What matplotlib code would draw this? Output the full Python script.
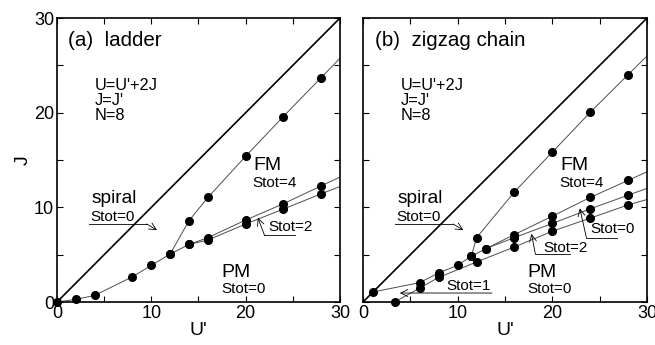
import matplotlib.pyplot as plt
from matplotlib.ticker import MultipleLocator

plt.rcParams['font.family'] = ['Liberation Sans', 'DejaVu Sans']

# J = U' boundary (both panels)
diag_u = [0, 30]
diag_j = [0, 30]

# (a) ladder
lad_fm_u = [0, 2, 4, 8, 10, 12, 14, 16, 20, 24, 28, 30]
lad_fm_j = [0, 0.28, 0.7, 2.67, 3.87, 5.07, 8.6, 11.05, 15.4, 19.6, 23.7, 25.75]
lad_s0_u = [12, 14, 16, 20, 24, 28, 30]
lad_s0_j = [5.07, 6.08, 6.8, 8.66, 10.38, 12.27, 13.2]
lad_s2_u = [14, 16, 20, 24, 28, 30]
lad_s2_j = [6.08, 6.55, 8.24, 9.82, 11.43, 12.2]

# (b) zigzag chain
zz_fm_u = [11.44, 12, 16, 20, 24, 28, 30]
zz_fm_j = [4.84, 6.8, 11.64, 15.84, 20.04, 24.02, 26.0]
zz_a_u = [1.06, 6, 8, 10, 11.44, 13, 16, 20, 24, 28, 30]
zz_a_j = [1.06, 2.05, 3.08, 3.88, 4.84, 5.65, 7.13, 9.07, 11.05, 12.85, 13.76]
zz_b_u = [13, 16, 20, 24, 28, 30]
zz_b_j = [5.65, 6.81, 8.3, 9.84, 11.29, 12.0]
zz_c_u = [3.35, 6, 8, 12, 16, 20, 24, 28, 30]
zz_c_j = [0, 1.48, 2.6, 4.23, 5.82, 7.48, 8.86, 10.26, 10.83]
zz_extra_u = [8]
zz_extra_j = [2.85]


def boundary(ax, u, j, marked=True):
    # last point is only where the line leaves the frame
    ax.plot(u, j, color='0.3', lw=0.7, zorder=2)
    if marked:
        ax.plot(u[:-1], j[:-1], 'o', color='k', ms=5.5, zorder=3, clip_on=False)


def arrow(ax, pts):
    xs = [p[0] for p in pts[:-1]]
    ys = [p[1] for p in pts[:-1]]
    ax.plot(xs, ys, color='k', lw=0.6)
    ax.annotate('', xy=pts[-1], xytext=pts[-2],
                arrowprops=dict(arrowstyle='->,head_length=0.5,head_width=0.25',
                                lw=0.6, color='k', shrinkA=0, shrinkB=0))


def frame(ax):
    ax.set_xlim(0, 30)
    ax.set_ylim(0, 30)
    ax.xaxis.set_major_locator(MultipleLocator(10))
    ax.yaxis.set_major_locator(MultipleLocator(10))
    ax.xaxis.set_minor_locator(MultipleLocator(5))
    ax.yaxis.set_minor_locator(MultipleLocator(5))
    ax.tick_params(which='both', direction='in', top=True, right=True,
                   length=4, width=0.8, labelsize=13, pad=2)
    for s in ax.spines.values():
        s.set_linewidth(1.2)
    ax.plot(diag_u, diag_j, color='k', lw=1.2, zorder=2)
    ax.set_xlabel("U'", fontsize=14, labelpad=0)
    ax.text(4.0, 23.7, "U=U'+2J\nJ=J'\nN=8", fontsize=11.8, va='top', linespacing=1.0)
    ax.text(3.7, 10.5, 'spiral', fontsize=13.8)
    ax.text(3.5, 8.55, 'Stot=0', fontsize=11)
    arrow(ax, [(3.4, 8.25), (9.5, 8.25), (10.6, 7.6)])
    ax.text(20.8, 14.0, 'FM', fontsize=14)
    ax.text(20.7, 12.2, 'Stot=4', fontsize=11)
    ax.text(17.4, 2.65, 'PM', fontsize=14)
    ax.text(17.4, 0.9, 'Stot=0', fontsize=11)


fig = plt.figure(figsize=(6.55, 3.45), dpi=100)
ax1 = fig.add_axes([0.087, 0.1246, 0.432, 0.823])
ax2 = fig.add_axes([0.5542, 0.1246, 0.4336, 0.823])

# panel (a)
frame(ax1)
boundary(ax1, lad_fm_u, lad_fm_j)
boundary(ax1, lad_s0_u, lad_s0_j)
boundary(ax1, lad_s2_u, lad_s2_j)
ax1.text(1.2, 27.0, '(a)  ladder', fontsize=14.8)
ax1.text(22.4, 7.5, 'Stot=2', fontsize=11)
arrow(ax1, [(25.2, 7.05), (22.0, 7.05), (21.3, 8.9)])
ax1.set_ylabel('J', fontsize=14, labelpad=2)

# panel (b)
frame(ax2)
boundary(ax2, zz_fm_u, zz_fm_j)
boundary(ax2, zz_a_u, zz_a_j)
boundary(ax2, zz_b_u, zz_b_j)
boundary(ax2, zz_c_u, zz_c_j)
ax2.plot(zz_extra_u, zz_extra_j, 'o', color='k', ms=5.5, zorder=3)
ax2.tick_params(labelleft=False)
ax2.text(1.3, 27.0, '(b)  zigzag chain', fontsize=14.8)
ax2.text(19.0, 5.3, 'Stot=2', fontsize=11)
arrow(ax2, [(21.9, 5.1), (18.2, 5.1), (17.8, 7.2)])
ax2.text(24.0, 7.25, 'Stot=0', fontsize=11)
arrow(ax2, [(26.8, 6.8), (23.6, 6.8), (22.9, 9.9)])
ax2.text(8.8, 1.25, 'Stot=1', fontsize=11)
arrow(ax2, [(13.6, 0.95), (3.9, 0.95)])

fig.savefig('out.png', dpi=100)
